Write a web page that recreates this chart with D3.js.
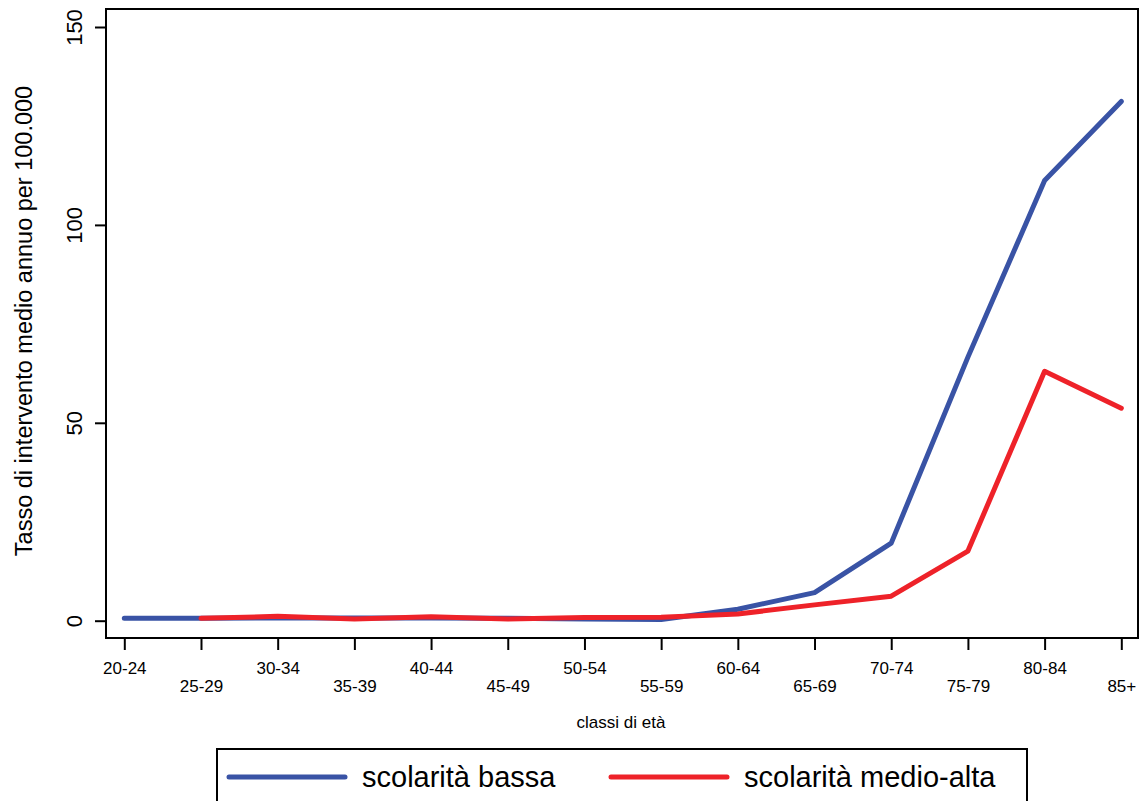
<!DOCTYPE html>
<html>
<head>
<meta charset="utf-8">
<script src="https://cdn.jsdelivr.net/npm/d3@7"></script>
<style>
  html, body { margin: 0; padding: 0; background: #fff; }
  svg { display: block; font-family: "Liberation Sans", Arial, sans-serif; }
</style>
</head>
<body>
<svg id="chart" width="1140" height="801"></svg>
<script>
const categories = ["20-24","25-29","30-34","35-39","40-44","45-49","50-54","55-59","60-64","65-69","70-74","75-79","80-84","85+"];
const bassa = [0.6, 0.6, 0.7, 0.7, 0.7, 0.6, 0.4, 0.3, 2.9, 7.1, 19.6, 66.6, 111.2, 131.2];
const medioAlta = [null, 0.6, 1.1, 0.4, 1.0, 0.4, 0.8, 0.9, 1.7, 4.0, 6.2, 17.6, 63.0, 53.7];
const yTicks = [0, 50, 100, 150];
const seriesNames = ["scolarità bassa", "scolarità medio-alta"];
const seriesColors = ["#3953a5", "#ee2229"];

const svg = d3.select("#chart");
const frame = { left: 106, right: 1138, top: 9, bottom: 638 };

const x = d3.scalePoint().domain(categories).range([124.3, 1121.3]);
const y = d3.scaleLinear().domain([0, 150]).range([620.7, 27]);

// Lines
const line = d3.line()
  .defined(d => d.v !== null)
  .x(d => x(d.c))
  .y(d => y(d.v));

[bassa, medioAlta].forEach((vals, i) => {
  svg.append("path")
    .datum(categories.map((c, j) => ({ c, v: vals[j] })))
    .attr("d", line)
    .attr("fill", "none")
    .attr("stroke", seriesColors[i])
    .attr("stroke-width", 5)
    .attr("stroke-linejoin", "round")
    .attr("stroke-linecap", "round");
});

// Frame
svg.append("rect")
  .attr("x", frame.left).attr("y", frame.top)
  .attr("width", frame.right - frame.left)
  .attr("height", frame.bottom - frame.top)
  .attr("fill", "none").attr("stroke", "#000").attr("stroke-width", 2);

// X axis
const xAxis = d3.axisBottom(x).tickSize(12).tickSizeOuter(0).tickPadding(0);
const gx = svg.append("g").attr("transform", `translate(0,${frame.bottom})`).call(xAxis);
gx.select(".domain").remove();
gx.selectAll(".tick line").attr("stroke", "#000").attr("stroke-width", 2);
gx.selectAll(".tick text")
  .attr("fill", "#000")
  .attr("font-size", 17)
  .attr("dy", null)
  .attr("y", (d, i) => (i % 2 === 0 ? 36 : 54));

// Y axis
const yAxis = d3.axisLeft(y).tickValues(yTicks).tickSize(11).tickSizeOuter(0).tickPadding(0);
const gy = svg.append("g").attr("transform", `translate(${frame.left},0)`).call(yAxis);
gy.select(".domain").remove();
gy.selectAll(".tick line").attr("stroke", "#000").attr("stroke-width", 2);
gy.selectAll(".tick text")
  .attr("fill", "#000")
  .attr("font-size", 22)
  .attr("x", null).attr("dy", null)
  .attr("text-anchor", "middle")
  .attr("transform", "translate(-24,0) rotate(-90)");

// Axis titles
svg.append("text")
  .attr("x", 621).attr("y", 728)
  .attr("text-anchor", "middle")
  .attr("font-size", 17)
  .text("classi di età");

svg.append("text")
  .attr("transform", "translate(32,321) rotate(-90)")
  .attr("text-anchor", "middle")
  .attr("font-size", 23.5)
  .text("Tasso di intervento medio annuo per 100.000");

// Legend
const legend = svg.append("g");
legend.append("rect")
  .attr("x", 217).attr("y", 749).attr("width", 810).attr("height", 80)
  .attr("fill", "#fff").attr("stroke", "#000").attr("stroke-width", 2);
const legX = [229, 611];
seriesNames.forEach((name, i) => {
  legend.append("line")
    .attr("x1", legX[i]).attr("x2", legX[i] + 116)
    .attr("y1", 777).attr("y2", 777)
    .attr("stroke", seriesColors[i]).attr("stroke-width", 5)
    .attr("stroke-linecap", "round");
  legend.append("text")
    .attr("x", legX[i] + 133).attr("y", 787)
    .attr("font-size", 29)
    .text(name);
});
</script>
</body>
</html>
